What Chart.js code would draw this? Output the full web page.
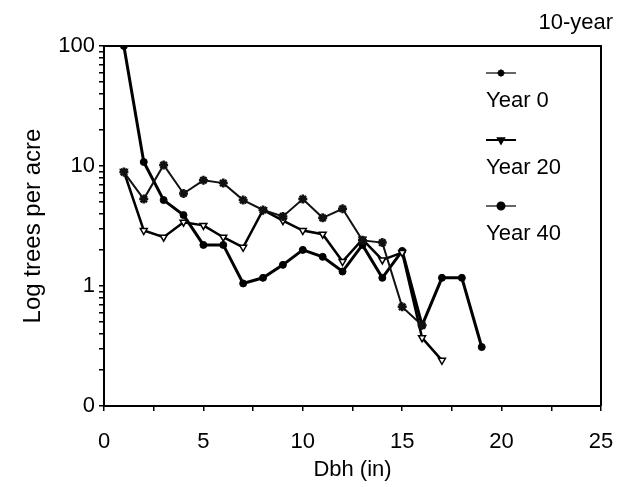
<!DOCTYPE html>
<html>
<head>
<meta charset="utf-8">
<script src="https://cdn.jsdelivr.net/npm/chart.js@4/dist/chart.umd.min.js"></script>
<style>
  body { margin: 0; background: #fff; }
  #wrap { width: 617px; height: 487px; }
</style>
</head>
<body>
<div id="wrap"><canvas id="chart"></canvas></div>
<script>
// Data (Dbh in inches, trees per acre)
const dbhYear0 = [1, 2, 3, 4, 5, 6, 7, 8, 9, 10, 11, 12, 13, 14, 15, 16];
const treesYear0 = [8.9, 5.3, 10.2, 5.9, 7.6, 7.2, 5.2, 4.3, 3.8, 5.3, 3.7, 4.4, 2.4, 2.3, 0.67, 0.47];

const dbhYear20 = [1, 2, 3, 4, 5, 6, 7, 8, 9, 10, 11, 12, 13, 14, 15, 16, 17];
const treesYear20 = [9.0, 2.9, 2.55, 3.4, 3.2, 2.55, 2.1, 4.3, 3.5, 2.9, 2.7, 1.6, 2.45, 1.65, 1.9, 0.37, 0.24];

const dbhYear40 = [1, 2, 3, 4, 5, 6, 7, 8, 9, 10, 11, 12, 13, 14, 15, 16, 17, 18, 19];
const treesYear40 = [100, 10.8, 5.2, 3.9, 2.2, 2.2, 1.05, 1.17, 1.5, 2.0, 1.75, 1.32, 2.2, 1.17, 1.96, 0.47, 1.17, 1.17, 0.31];

const seriesLabels = ['Year 0', 'Year 20', 'Year 40'];
const yMajorTicks = [0.1, 1, 10, 100];
const yTickLabels = ['0', '1', '10', '100'];
const chartTitle = '10-year';

const FONT = '"Liberation Sans", Arial, sans-serif';

function toPoints(xs, ys) {
    return xs.map((x, i) => ({ x, y: ys[i] }));
}

// Minor log ticks 0.1..100 (1..9 per decade)
function logTicks() {
    const out = [];
    for (let d = 0; d < 3; d++) {
        const base = yMajorTicks[d];
        for (let m = 1; m < 10; m++) out.push(+(base * m).toPrecision(3));
    }
    out.push(yMajorTicks[3]);
    return out;
}

// Box round the plot, title and stacked legend (sample above text)
const decorations = {
    id: 'decorations',
    afterDraw(chart) {
        const { ctx, chartArea: a } = chart;
        ctx.save();
        ctx.strokeStyle = '#000';
        ctx.lineWidth = 2;
        ctx.beginPath();
        ctx.moveTo(a.left, a.top);
        ctx.lineTo(a.right, a.top);
        ctx.lineTo(a.right, a.bottom);
        ctx.stroke();

        ctx.fillStyle = '#000';
        ctx.font = '22px ' + FONT;
        ctx.textAlign = 'right';
        ctx.textBaseline = 'middle';
        ctx.fillText(chartTitle, 613, 23);

        // legend
        const lx = 486, sampleW = 30;
        const rows = [73, 140, 206];
        chart.data.datasets.forEach((ds, i) => {
            const y = rows[i];
            ctx.strokeStyle = ds.legendColor;
            ctx.lineWidth = 2;
            ctx.beginPath();
            ctx.moveTo(lx, y);
            ctx.lineTo(lx + sampleW, y);
            ctx.stroke();
            ctx.fillStyle = '#000';
            ctx.strokeStyle = '#000';
            ctx.lineWidth = 2;
            Chart.helpers.drawPoint(ctx, {
                pointStyle: ds.pointStyle,
                rotation: ds.pointRotation || 0,
                radius: 3.5,
                borderWidth: 2
            }, lx + sampleW / 2, y);
            ctx.fillStyle = '#000';
            ctx.textAlign = 'left';
            ctx.font = '22px ' + FONT;
            ctx.fillText(ds.label, lx, y + 28);
        });
        ctx.restore();
    }
};

const ctx = document.getElementById('chart').getContext('2d');
new Chart(ctx, {
    type: 'line',
    data: {
        datasets: [
            {
                label: seriesLabels[0],
                data: toPoints(dbhYear0, treesYear0),
                borderColor: '#111',
                legendColor: '#666',
                borderWidth: 2,
                pointStyle: 'star',
                pointRadius: 4.5,
                pointBackgroundColor: '#111',
                pointBorderColor: '#111',
                pointBorderWidth: 2.5
            },
            {
                label: seriesLabels[1],
                data: toPoints(dbhYear20, treesYear20),
                borderColor: '#000',
                legendColor: '#000',
                borderWidth: 2.5,
                pointStyle: 'triangle',
                pointRotation: 180,
                pointRadius: 4,
                pointBackgroundColor: '#fff',
                pointBorderColor: '#000',
                pointBorderWidth: 1.5
            },
            {
                label: seriesLabels[2],
                data: toPoints(dbhYear40, treesYear40),
                borderColor: '#000',
                legendColor: '#666',
                borderWidth: 3,
                pointStyle: 'circle',
                pointRadius: 3.5,
                pointBackgroundColor: '#000',
                pointBorderColor: '#000',
                pointBorderWidth: 1
            }
        ]
    },
    options: {
        responsive: true,
        maintainAspectRatio: false,
        animation: false,
        layout: { padding: { top: 46, right: 16, left: 0, bottom: 0 } },
        plugins: {
            legend: { display: false },
            tooltip: { enabled: false }
        },
        elements: { line: { tension: 0 } },
        scales: {
            x: {
                type: 'linear',
                min: 0,
                max: 25,
                afterFit: s => {
                    s.height = 81;
                    s.paddingLeft = 0;
                    s.paddingRight = 0;
                },
                border: { display: true, color: '#000', width: 2 },
                grid: { drawOnChartArea: false, color: '#000', lineWidth: 1.5, tickLength: 5 },
                ticks: {
                    stepSize: 2.5,
                    autoSkip: false,
                    maxRotation: 0,
                    padding: 18,
                    color: '#000',
                    font: { family: FONT, size: 22 },
                    callback: v => (v % 5 === 0 ? String(v) : '')
                },
                title: {
                    display: true,
                    text: 'Dbh (in)',
                    color: '#000',
                    font: { family: FONT, size: 22 },
                    padding: { top: 0 }
                }
            },
            y: {
                type: 'logarithmic',
                min: 0.1,
                max: 100,
                afterFit: s => { s.width = 104; },
                afterBuildTicks: s => { s.ticks = logTicks().map(v => ({ value: v })); },
                border: { display: true, color: '#000', width: 2 },
                grid: { drawOnChartArea: false, color: '#000', lineWidth: 1.5, tickLength: 5 },
                ticks: {
                    autoSkip: false,
                    padding: 4,
                    color: '#000',
                    font: { family: FONT, size: 22 },
                    callback: v => {
                        const i = yMajorTicks.findIndex(t => Math.abs(t - v) < 1e-9);
                        return i >= 0 ? yTickLabels[i] : '';
                    }
                },
                title: {
                    display: true,
                    text: 'Log trees per acre',
                    color: '#000',
                    font: { family: FONT, size: 24 },
                    padding: { top: 19, bottom: 0 }
                }
            }
        }
    },
    plugins: [decorations]
});
</script>
</body>
</html>
